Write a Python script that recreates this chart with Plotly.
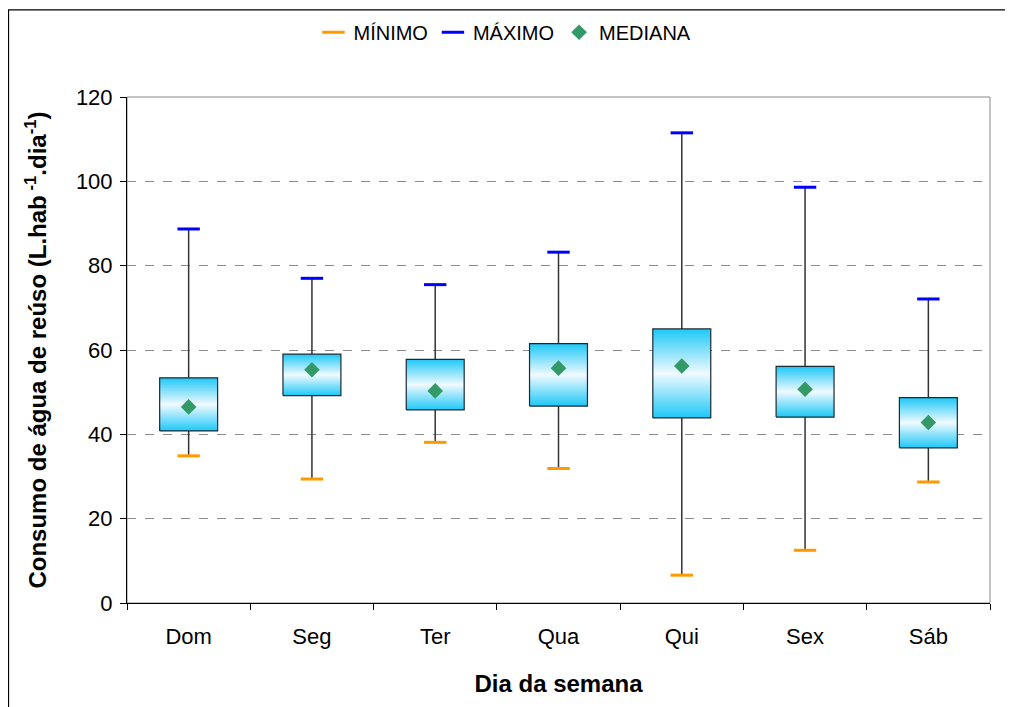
"""Consumo de água de reúso por dia da semana (box chart)."""

import plotly.graph_objects as go

DIAS = ["Dom", "Seg", "Ter", "Qua", "Qui", "Sex", "Sáb"]
MINIMO = [34.9, 29.4, 38.1, 31.9, 6.6, 12.5, 28.7]
Q1 = [40.8, 49.2, 45.8, 46.7, 43.9, 44.1, 36.8]
MEDIANA = [46.5, 55.3, 50.3, 55.7, 56.2, 50.7, 42.8]
Q3 = [53.4, 59.0, 57.8, 61.5, 65.0, 56.1, 48.7]
MAXIMO = [88.7, 77.0, 75.5, 83.2, 111.5, 98.6, 72.1]

FONT = "Arial, 'Liberation Sans', sans-serif"
HALF = 0.235
pos = list(range(len(DIAS)))

fig = go.Figure()

# whiskers
wx, wy = [], []
for i in pos:
    wx += [i, i, None]
    wy += [MINIMO[i], MAXIMO[i], None]
fig.add_trace(go.Scatter(x=wx, y=wy, mode="lines", line=dict(color="#333333", width=1.5),
                         showlegend=False, hoverinfo="skip"))

# boxes with vertical gradient
for i in pos:
    fig.add_trace(go.Scatter(
        x=[i - HALF, i + HALF, i + HALF, i - HALF, i - HALF],
        y=[Q1[i], Q1[i], Q3[i], Q3[i], Q1[i]],
        mode="lines", fill="toself", line=dict(color="#1a2a33", width=1.2),
        fillgradient=dict(type="vertical",
                          colorscale=[[0, "#1EC8F7"], [0.5, "#F0FAFF"], [1, "#1EC8F7"]]),
        showlegend=False, hoverinfo="skip",
    ))

fig.add_trace(go.Scatter(x=pos, y=MINIMO, mode="markers", name="MÍNIMO",
                         marker=dict(symbol="line-ew", size=16, line=dict(color="#FF9900", width=3))))
fig.add_trace(go.Scatter(x=pos, y=MAXIMO, mode="markers", name="MÁXIMO",
                         marker=dict(symbol="line-ew", size=16, line=dict(color="#0000FF", width=3))))
fig.add_trace(go.Scatter(x=pos, y=MEDIANA, mode="markers", name="MEDIANA",
                         marker=dict(symbol="diamond", size=12, color="#339966")))

fig.update_layout(
    width=1013, height=707,
    margin=dict(l=119, r=31, t=89, b=112, autoexpand=False),
    paper_bgcolor="white", plot_bgcolor="white",
    font=dict(family=FONT, color="black", size=22),
    legend=dict(orientation="h", x=0.438, xanchor="center", y=1.128, yanchor="middle",
                font=dict(size=20), itemwidth=30, tracegroupgap=0,
                bgcolor="rgba(0,0,0,0)"),
    shapes=[
        dict(type="rect", xref="paper", yref="paper", x0=0, x1=1, y0=0, y1=1,
             line=dict(color="#888888", width=1), layer="below"),
        dict(type="rect", xref="paper", yref="paper", x0=-0.1373, x1=1.1, y0=-0.25, y1=1.172,
             line=dict(color="black", width=1.2), layer="below"),
    ],
)

fig.update_xaxes(
    range=[-0.5, len(DIAS) - 0.5], tickvals=pos, ticktext=DIAS, ticks="",
    showline=True, linecolor="black", linewidth=1, showgrid=False, zeroline=False,
    minor=dict(tick0=-0.5, dtick=1, ticks="outside", ticklen=6, tickcolor="black", showgrid=False),
    tickfont=dict(size=22), ticklabelstandoff=14, automargin=False,
    title=dict(text="<b>Dia da semana</b>", font=dict(size=24), standoff=26),
)
fig.update_yaxes(
    range=[0, 120], dtick=20, ticks="outside", ticklen=6, tickcolor="black",
    showline=True, linecolor="black", linewidth=1, zeroline=False,
    showgrid=True, gridcolor="#8c8c8c", griddash="dash", gridwidth=1,
    tickfont=dict(size=22), ticklabelstandoff=3, automargin=False,
    title=dict(text="<b>Consumo de água de reúso (L.hab<sup> -1</sup>.dia<sup>-1</sup>)</b>",
               font=dict(size=24), standoff=22),
)

fig.write_html("out.html")
